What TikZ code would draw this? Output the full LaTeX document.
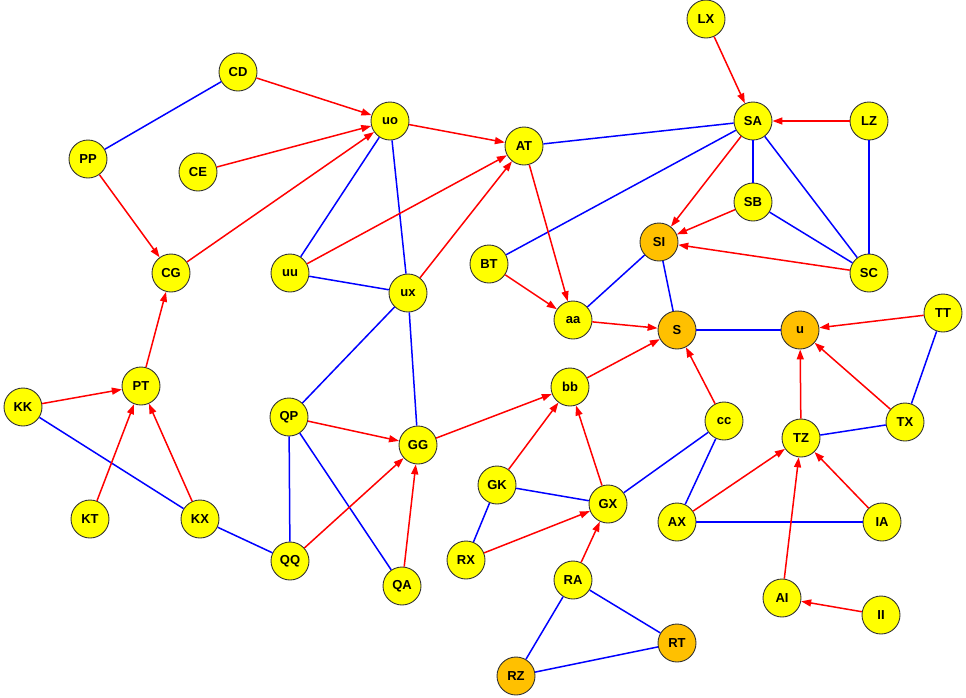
\documentclass[tikz,border=0pt]{standalone}
\usepackage{fontspec}
\setmainfont{Liberation Sans}
\usetikzlibrary{arrows.meta}
\definecolor{nodeyel}{RGB}{255,255,0}
\definecolor{nodeorg}{RGB}{255,192,0}
\definecolor{edgered}{RGB}{255,0,0}
\definecolor{edgeblue}{RGB}{0,0,255}
\begin{document}
\begin{tikzpicture}[x=1pt,y=-1pt,
  vert/.style={circle,draw=black!80,line width=0.9pt,fill=nodeyel,minimum size=38pt,inner sep=0pt,font=\fontsize{13}{13}\selectfont\bfseries},
  hot/.style={vert,fill=nodeorg},
  und/.style={draw=edgeblue,line width=1.5pt},
  dir/.style={draw=edgered,line width=1.5pt,-{Triangle[length=10pt,width=7pt]}}]
\useasboundingbox (0,0) rectangle (966,697);
\node[vert] (LX) at (706,19) {LX};
\node[vert] (CD) at (238,72) {CD};
\node[vert] (uo) at (390,121) {uo};
\node[vert] (AT) at (524,146) {AT};
\node[vert] (SA) at (753,121) {SA};
\node[vert] (LZ) at (869,121) {LZ};
\node[vert] (PP) at (88,159) {PP};
\node[vert] (CE) at (198,172) {CE};
\node[vert] (SB) at (753,202) {SB};
\node[hot]  (SI) at (659,242) {SI};
\node[vert] (BT) at (489,264) {BT};
\node[vert] (SC) at (869,273) {SC};
\node[vert] (CG) at (171,273) {CG};
\node[vert] (uu) at (290,273) {uu};
\node[vert] (ux) at (408,293) {ux};
\node[vert] (aa) at (573,320) {aa};
\node[hot]  (S)  at (677,330) {S};
\node[hot]  (u)  at (800,330) {u};
\node[vert] (TT) at (943,313) {TT};
\node[vert] (KK) at (23,407) {KK};
\node[vert] (PT) at (141,386) {PT};
\node[vert] (bb) at (570,387) {bb};
\node[vert] (cc) at (724,421) {cc};
\node[vert] (QP) at (289,417) {QP};
\node[vert] (GG) at (418,445) {GG};
\node[vert] (TZ) at (801,438) {TZ};
\node[vert] (TX) at (905,422) {TX};
\node[vert] (GK) at (497,485) {GK};
\node[vert] (GX) at (608,504) {GX};
\node[vert] (KT) at (90,519) {KT};
\node[vert] (KX) at (200,519) {KX};
\node[vert] (AX) at (677,522) {AX};
\node[vert] (IA) at (882,522) {IA};
\node[vert] (QQ) at (290,561) {QQ};
\node[vert] (RX) at (466,560) {RX};
\node[vert] (QA) at (402,586) {QA};
\node[vert] (RA) at (573,580) {RA};
\node[vert] (AI) at (782,598) {AI};
\node[vert] (II) at (881,615) {II};
\node[hot]  (RT) at (677,643) {RT};
\node[hot]  (RZ) at (516,676) {RZ};
\foreach \a/\b in {PP/CD,SA/AT,SA/BT,SA/SB,SA/SC,LZ/SC,SB/SC,SI/aa,SI/S,S/u,uo/uu,uo/ux,uu/ux,ux/QP,ux/GG,QP/QQ,QP/QA,KK/KX,KX/QQ,TT/TX,TZ/TX,cc/GX,cc/AX,AX/IA,GK/GX,GK/RX,RA/RZ,RA/RT,RZ/RT}
  \draw[und] (\a) -- (\b);
\foreach \a/\b in {CD/uo,CE/uo,uo/AT,uu/AT,ux/AT,CG/uo,PP/CG,PT/CG,KK/PT,KT/PT,KX/PT,LX/SA,LZ/SA,SA/SI,SB/SI,SC/SI,AT/aa,BT/aa,aa/S,bb/S,cc/S,TT/u,TX/u,TZ/u,AX/TZ,IA/TZ,AI/TZ,II/AI,QP/GG,QQ/GG,QA/GG,GG/bb,GK/bb,GX/bb,RX/GX,RA/GX}
  \draw[dir] (\a) -- (\b);
\end{tikzpicture}
\end{document}
